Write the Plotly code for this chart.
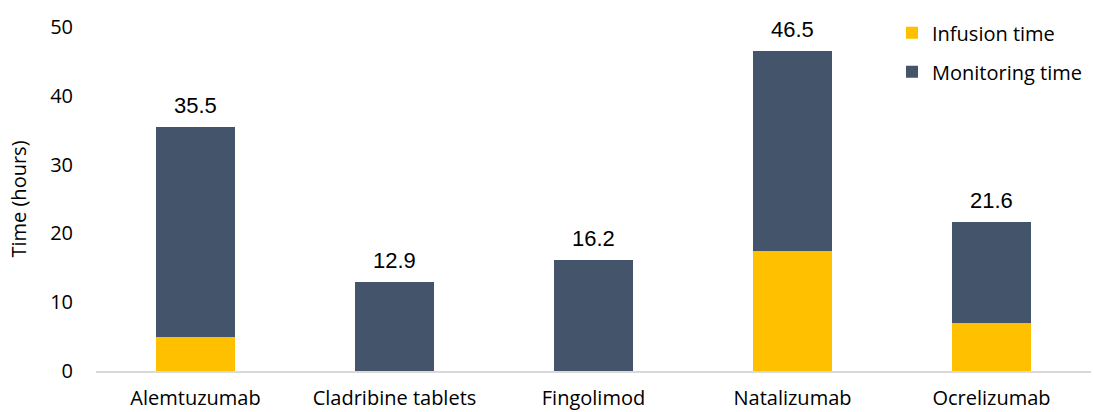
import plotly.graph_objects as go

treatments = ["Alemtuzumab", "Cladribine tablets", "Fingolimod", "Natalizumab", "Ocrelizumab"]
total_hours = [35.5, 12.9, 16.2, 46.5, 21.6]
infusion_hours = [4.9, 0.0, 0.0, 17.5, 7.0]
monitoring_hours = [round(t - i, 1) for t, i in zip(total_hours, infusion_hours)]
y_ticks = [0, 10, 20, 30, 40, 50]

INFUSION_COLOR = "#FFC000"
MONITORING_COLOR = "#44546A"
BASE_FONT = "Open Sans, sans-serif"

fig = go.Figure()
fig.add_trace(go.Bar(
    x=treatments, y=infusion_hours, name="Infusion time", legendgroup="inf",
    marker=dict(color=INFUSION_COLOR, line=dict(width=0)),
))
fig.add_trace(go.Bar(
    x=treatments, y=monitoring_hours, name="Monitoring time", legendgroup="mon",
    marker=dict(color=MONITORING_COLOR, line=dict(width=0)),
))

# total labels above each stacked bar
for name, total in zip(treatments, total_hours):
    fig.add_annotation(
        x=name, y=total, text=f"{total:.1f}", showarrow=False,
        yanchor="bottom", yshift=7,
        font=dict(family="Liberation Sans, Arial", size=22, color="#000000"),
    )

fig.update_layout(
    barmode="stack",
    bargap=0.6,
    width=1094, height=412,
    margin=dict(l=96, r=3, t=27, b=41, autoexpand=False),
    plot_bgcolor="white", paper_bgcolor="white",
    font=dict(family=BASE_FONT, size=20, color="#000000"),
    legend=dict(
        x=0.80, y=1.04, xanchor="left", yanchor="top",
        bgcolor="rgba(0,0,0,0)", font=dict(family=BASE_FONT, size=20),
        traceorder="grouped", tracegroupgap=10, itemwidth=30,
    ),
    xaxis=dict(
        showgrid=False, showline=True, linecolor="#D9D9D9", linewidth=2,
        ticks="", ticklabelstandoff=8, tickfont=dict(size=20), automargin=False,
    ),
    yaxis=dict(
        range=[0, 50], tickvals=y_ticks, showgrid=False, zeroline=False,
        showline=False, ticks="", ticklabelstandoff=22, tickfont=dict(size=20),
        title=dict(text="Time (hours)", font=dict(size=20), standoff=18),
        automargin=False,
    ),
)

fig.write_html("out.html")
